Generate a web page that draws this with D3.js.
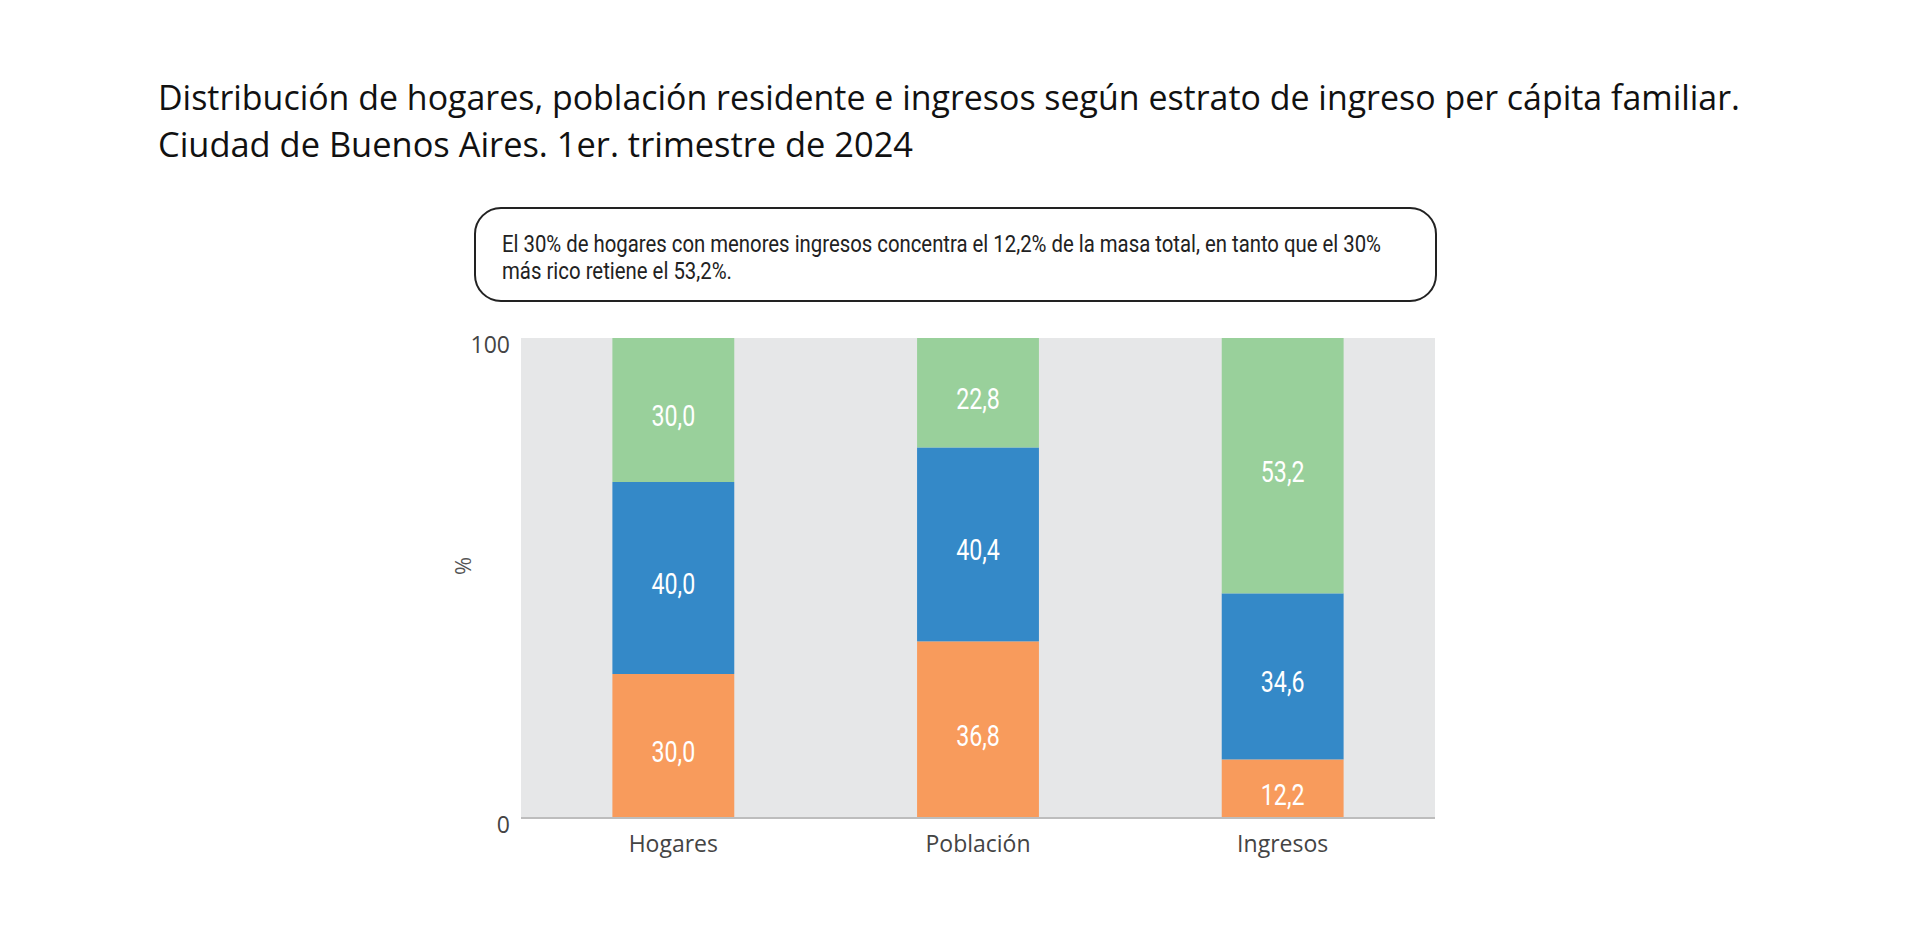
<!DOCTYPE html>
<html>
<head>
<meta charset="utf-8">
<script src="https://cdn.jsdelivr.net/npm/d3@7"></script>
<style>
  html, body { margin: 0; padding: 0; background: #fff; }
  svg { display: block; }
</style>
</head>
<body>
<svg id="chart" width="1920" height="950"></svg>
<script>
// ---- Data ----
const categories = ["Hogares", "Población", "Ingresos"];
const estratoBajo = [30.0, 36.8, 12.2];
const estratoMedio = [40.0, 40.4, 34.6];
const estratoAlto = [30.0, 22.8, 53.2];
const seriesKeys = ["bajo", "medio", "alto"];
const seriesColors = ["#F89B5C", "#3489C8", "#99D09B"];
const yTicks = [0, 100];
const titleLines = [
  "Distribución de hogares, población residente e ingresos según estrato de ingreso per cápita familiar.",
  "Ciudad de Buenos Aires. 1er. trimestre de 2024"
];
const noteLines = [
  "El 30% de hogares con menores ingresos concentra el 12,2% de la masa total, en tanto que el 30%",
  "más rico retiene el 53,2%."
];
const yLabel = "%";

// ---- Layout ----
const svg = d3.select("#chart");
const plot = { left: 521, right: 1435, top: 338, bottom: 818 };

const table = categories.map((c, i) => ({
  cat: c, bajo: estratoBajo[i], medio: estratoMedio[i], alto: estratoAlto[i]
}));

const x = d3.scaleBand().domain(categories).range([plot.left, plot.right])
  .paddingInner(0.6).paddingOuter(0.3);
const y = d3.scaleLinear().domain([0, 100]).range([plot.bottom, plot.top]);
const color = d3.scaleOrdinal().domain(seriesKeys).range(seriesColors);

function fitWidth(sel, w) {
  sel.attr("textLength", w).attr("lengthAdjust", "spacingAndGlyphs");
}
function condense(sel, k) {
  sel.each(function () {
    const n = this.getComputedTextLength();
    d3.select(this).attr("textLength", n * k).attr("lengthAdjust", "spacingAndGlyphs");
  });
}

// ---- Title ----
const titleFont = "'Open Sans', 'Noto Sans', sans-serif";
const tW = [1582, 755];
const tY = [110, 157];
titleLines.forEach((t, i) => {
  svg.append("text")
    .attr("x", 158).attr("y", tY[i])
    .attr("font-family", titleFont).attr("font-size", 35)
    .attr("font-weight", 500)
    .attr("fill", "#111")
    .text(t)
    .call(fitWidth, tW[i]);
});

// ---- Note box ----
svg.append("rect")
  .attr("x", 475).attr("y", 208).attr("width", 961).attr("height", 93)
  .attr("rx", 26).attr("ry", 26)
  .attr("fill", "#fff").attr("stroke", "#222").attr("stroke-width", 2);
const nW = [879, 230];
const nY = [252, 279];
noteLines.forEach((t, i) => {
  svg.append("text")
    .attr("x", 502).attr("y", nY[i])
    .attr("font-family", "'Roboto', 'Noto Sans', sans-serif").attr("font-size", 23)
    .attr("fill", "#222")
    .text(t)
    .call(fitWidth, nW[i]);
});

// ---- Plot background ----
svg.append("rect")
  .attr("x", plot.left).attr("y", plot.top)
  .attr("width", plot.right - plot.left).attr("height", plot.bottom - plot.top)
  .attr("fill", "#E6E7E8");

// ---- Bars ----
const stacked = d3.stack().keys(seriesKeys)(table);
const g = svg.append("g");
stacked.forEach(layer => {
  const key = layer.key;
  g.selectAll(null).data(layer).enter().append("rect")
    .attr("x", d => x(d.data.cat))
    .attr("width", x.bandwidth())
    .attr("y", d => y(d[1]))
    .attr("height", d => y(d[0]) - y(d[1]))
    .attr("fill", color(key));
  g.selectAll(null).data(layer).enter().append("text")
    .attr("x", d => x(d.data.cat) + x.bandwidth() / 2)
    .attr("y", d => (y(d[0]) + y(d[1])) / 2)
    .attr("dy", "0.55em")
    .attr("text-anchor", "middle")
    .attr("font-family", "'Roboto', sans-serif")
    .attr("font-size", 29)
    .attr("fill", "#fff")
    .text(d => d3.format(".1f")(d[1] - d[0]).replace(".", ","))
    .call(condense, 0.8);
});

// ---- Baseline ----
svg.append("line")
  .attr("x1", plot.left).attr("x2", plot.right)
  .attr("y1", plot.bottom).attr("y2", plot.bottom)
  .attr("stroke", "#BDBDBD").attr("stroke-width", 2);

// ---- Y axis ----
const yAxis = d3.axisLeft(y).tickValues(yTicks).tickSize(0).tickPadding(11);
const ya = svg.append("g").attr("transform", `translate(${plot.left},0)`).call(yAxis);
ya.select(".domain").remove();
ya.selectAll("text")
  .attr("font-family", "'Open Sans', sans-serif").attr("font-size", 23)
  .attr("fill", "#444").attr("dy", "0.7em").attr("y", -2);

svg.append("text")
  .attr("transform", "translate(471,566) rotate(-90)")
  .attr("text-anchor", "middle")
  .attr("font-family", "'Open Sans', sans-serif").attr("font-size", 22)
  .attr("fill", "#555")
  .text(yLabel);

// ---- X axis ----
const xAxis = d3.axisBottom(x).tickSize(0).tickPadding(18);
const xa = svg.append("g").attr("transform", `translate(0,${plot.bottom})`).call(xAxis);
xa.select(".domain").remove();
xa.selectAll("text")
  .attr("font-family", "'Open Sans', sans-serif").attr("font-size", 23)
  .attr("fill", "#444");
</script>
</body>
</html>
